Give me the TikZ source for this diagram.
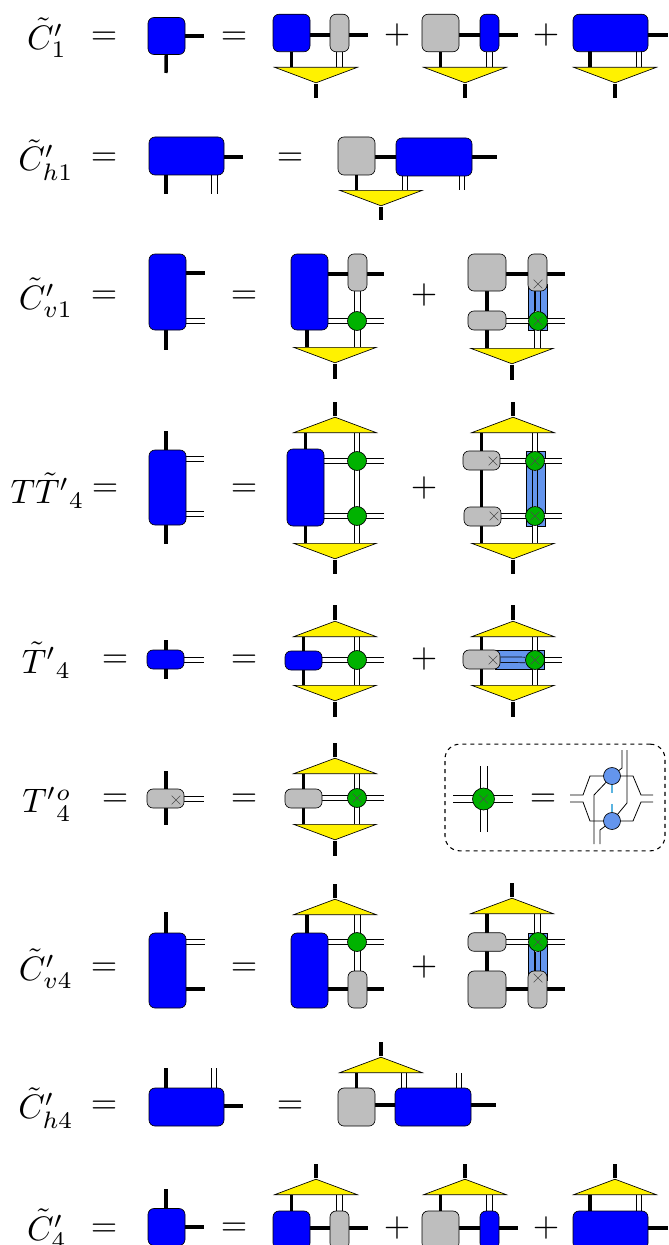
\documentclass[tikz,border=0pt]{standalone}
\usetikzlibrary{shapes.geometric,shapes.misc,backgrounds}
\definecolor{tgray}{gray}{0.745}
\definecolor{tgreen}{RGB}{0,178,0}
\definecolor{tbar}{RGB}{100,149,237}
\definecolor{tdash}{RGB}{91,180,224}
\tikzset{
  leg/.style={line width=2.6pt},
  dbl/.style={double, double distance=3.6pt, line width=0.55pt},
  dblbar/.style={double=tbar, double distance=3.6pt, line width=0.55pt},
  thin line/.style={line width=0.6pt},
  ten/.style 2 args={draw, rounded corners=4.5pt, line width=0.5pt, inner sep=0pt,
               minimum width=#1*0.75pt, minimum height=#2*0.75pt},
  blueten/.style 2 args={ten={#1}{#2}, fill=blue},
  grayten/.style 2 args={ten={#1}{#2}, fill=tgray},
  bar/.style 2 args={draw, line width=0.4pt, fill=tbar, inner sep=0pt,
               minimum width=#1*0.75pt, minimum height=#2*0.75pt},
  isotri/.style={isosceles triangle, isosceles triangle stretches, draw, fill=yellow,
               line width=0.5pt, inner sep=0pt, minimum width=62pt, minimum height=11.6pt},
  isodn/.style={isotri, shape border rotate=-90, anchor=north},
  isoup/.style={isotri, shape border rotate=90, anchor=south},
  gdot/.style={circle, draw, fill=tgreen, line width=0.5pt, inner sep=0pt, minimum size=14.25pt},
  bdot/.style={circle, draw, fill=tbar, line width=0.5pt, inner sep=0pt, minimum size=12.75pt},
  xmark/.style={cross out, draw=black!70, line width=0.45pt, inner sep=0pt, minimum size=6pt},
  lab/.style={scale=2.55},
}
\begin{document}
\begin{tikzpicture}[x=0.75pt,y=-0.75pt]
  \useasboundingbox (0,0) rectangle (668,1245);
  \clip (0,0) rectangle (668,1245);

  % first row
  \node[lab] (q1) at (47,38) {$\tilde{C}'_1$};
  \node[lab] (eq1) at (104,38) {$=$};
  \node[blueten={37}{37}] (a1) at (166.5,36) {};
  \node[lab] (eq2) at (234,38) {$=$};
  \node[blueten={37}{37.5}] (b1) at (291.5,33) {};
  \node[grayten={19}{37.5}] (b2) at (339.5,33) {};
  \node[isodn] (b3) at (316,67) {};
  \node[lab] (pl1) at (397,35) {$+$};
  \node[grayten={37}{37.5}] (c1) at (440.5,33) {};
  \node[blueten={19}{37.5}] (c2) at (489.5,33) {};
  \node[isodn] (c3) at (465,67) {};
  \node[lab] (pl2) at (546,35) {$+$};
  \node[blueten={75}{37.5}] (d1) at (610.5,33) {};
  \node[isodn] (d3) at (615,67) {};
  \coordinate (a1r) at (204,36);
  \coordinate (a1d) at (166,73);
  \coordinate (b1r) at (368,35);
  \coordinate (b3d) at (316,98);
  \coordinate (c1r) at (518,35);
  \coordinate (c3d) at (465,98);
  \coordinate (d1r) at (668,35);
  \coordinate (d3d) at (615,98);
  \coordinate (d1l) at (590,67);
  \coordinate (d1m) at (639,67);
  \begin{scope}[on background layer]
    \draw[leg] (a1) -- (a1r);
    \draw[leg] (a1) -- (a1d);
    \draw[leg] (b1 |- b1r) -- (b1r);
    \draw[leg] (b1) -- (b1 |- b3.north);
    \draw[dbl] (b2) -- (b2 |- b3.north);
    \draw[leg] (b3.south) -- (b3d);
    \draw[leg] (c1 |- c1r) -- (c1r);
    \draw[leg] (c1) -- (c1 |- c3.north);
    \draw[dbl] (c2) -- (c2 |- c3.north);
    \draw[leg] (c3.south) -- (c3d);
    \draw[leg] (d1 |- d1r) -- (d1r);
    \draw[leg] (d1 -| d1l) -- (d1l);
    \draw[dbl] (d1 -| d1m) -- (d1m);
    \draw[leg] (d3.south) -- (d3d);
  \end{scope}

  % second row
  \node[lab] (q2) at (46,160) {$\tilde{C}'_{h1}$};
  \node[lab] (eq3) at (104,159) {$=$};
  \node[blueten={75}{38}] (e1) at (186.5,156) {};
  \node[lab] (eq4) at (290,159) {$=$};
  \node[grayten={37}{38}] (f1) at (356.5,156) {};
  \node[blueten={76}{38}] (f2) at (434,157) {};
  \node[isodn] (f3) at (381,190) {};
  \coordinate (e1r) at (243,157);
  \coordinate (e1d) at (166,194);
  \coordinate (e1m) at (214.5,194);
  \coordinate (f2r) at (497,157);
  \coordinate (f2l) at (405,190);
  \coordinate (f2m) at (462,190);
  \coordinate (f3d) at (381,220);
  \begin{scope}[on background layer]
    \draw[leg] (e1 |- e1r) -- (e1r);
    \draw[leg] (e1 -| e1d) -- (e1d);
    \draw[dbl] (e1 -| e1m) -- (e1m);
    \draw[leg] (f1 |- f2r) -- (f2r);
    \draw[leg] (f1) -- (f1 |- f3.north);
    \draw[dbl] (f2 -| f2l) -- (f2l);
    \draw[dbl] (f2 -| f2m) -- (f2m);
    \draw[leg] (f3.south) -- (f3d);
  \end{scope}

  % third row
  \node[lab] (q3) at (46,298) {$\tilde{C}'_{v1}$};
  \node[lab] (eq5) at (104,297) {$=$};
  \node[blueten={37}{76}] (g1) at (167.5,292) {};
  \node[lab] (eq6) at (244,297) {$=$};
  \node[blueten={37}{76}] (h1) at (309.5,292) {};
  \node[grayten={19}{37}] (h2) at (357.5,272.5) {};
  \node[gdot] (h3) at (357,321) {};
  \node[isodn] (h4) at (335,347) {};
  \node[lab] (pl3) at (424,295) {$+$};
  \node[grayten={38}{37}] (i1) at (487,272.5) {};
  \node[grayten={19}{37}] (i2) at (537.5,272.5) {};
  \node[xmark] (i2x) at (538,284) {};
  \node[grayten={38}{19}] (i3) at (487,320.5) {};
  \node[gdot] (i4) at (538,321) {};
  \node[xmark] (i4x) at (538,321) {};
  \node[isodn] (i5) at (512,348) {};
  \coordinate (g1r) at (205,273);
  \coordinate (g1d) at (166,350);
  \coordinate (g1m) at (205,321);
  \coordinate (h1r) at (384,274);
  \coordinate (h3r) at (384,321);
  \coordinate (h1d) at (307,347);
  \coordinate (h4d) at (335,379);
  \coordinate (i2r) at (565,274);
  \coordinate (i4r) at (565,321);
  \coordinate (i5d) at (512,380);
  \begin{scope}[on background layer]
    \node[bar={19}{46}] (i6) at (537.5,307) {};
    \draw[leg] (g1 |- g1r) -- (g1r);
    \draw[leg] (g1 -| g1d) -- (g1d);
    \draw[dbl] (g1 |- g1m) -- (g1m);
    \draw[leg] (h1 |- h1r) -- (h1r);
    \draw[dbl] (h1 |- h3r) -- (h3r);
    \draw[dbl] (h2) -- (h2 |- h4.north);
    \draw[leg] (h1 -| h1d) -- (h1d);
    \draw[leg] (h4.south) -- (h4d);
    \draw[leg] (i1 |- i2r) -- (i2r);
    \draw[leg] (i1) -- (i1 |- i5.north);
    \draw[dbl] (i3 |- i4r) -- (i4r);
    \draw[dbl] (i2) -- (i2 |- i5.north);
    \draw[dblbar] (i2x) -- (i4);
    \draw[leg] (i5.south) -- (i5d);
  \end{scope}

  % fourth row
  \node[lab] (q4) at (47.5,490.5) {$T\tilde{T}'{}_4$};
  \node[lab] (eq7) at (105,490) {$=$};
  \node[blueten={37}{75}] (j1) at (167.5,487.5) {};
  \node[lab] (eq8) at (244,490) {$=$};
  \node[isoup] (k0) at (335,433) {};
  \node[blueten={37}{77}] (k1) at (305.5,487.5) {};
  \node[gdot] (k2) at (357,461) {};
  \node[gdot] (k3) at (357,516) {};
  \node[isodn] (k4) at (335,543) {};
  \node[lab] (pl4) at (424,488) {$+$};
  \node[isoup] (m0) at (513,433) {};
  \node[grayten={37}{19}] (m1) at (481.5,460.5) {};
  \node[xmark] (m1x) at (493,461) {};
  \node[grayten={37}{19}] (m2) at (482.5,516.5) {};
  \node[xmark] (m2x) at (494,516) {};
  \node[gdot] (m3) at (535,461) {};
  \node[xmark] (m3x) at (535,461) {};
  \node[gdot] (m4) at (535,516) {};
  \node[xmark] (m4x) at (535,516) {};
  \node[isodn] (m5) at (513,543) {};
  \coordinate (j1u) at (166,431);
  \coordinate (j1d) at (166,544);
  \coordinate (j1p) at (204,459);
  \coordinate (j1q) at (204,514);
  \coordinate (k0u) at (335,402);
  \coordinate (k2r) at (384,461);
  \coordinate (k3r) at (384,516);
  \coordinate (k4d) at (335,574);
  \coordinate (m0u) at (513,402);
  \coordinate (m3r) at (562,461);
  \coordinate (m4r) at (562,516);
  \coordinate (m5d) at (513,574);
  \begin{scope}[on background layer]
    \node[bar={19}{75}] (m6) at (535.5,488.5) {};
    \draw[leg] (j1u) -- (j1d);
    \draw[dbl] (j1 |- j1p) -- (j1p);
    \draw[dbl] (j1 |- j1q) -- (j1q);
    \draw[leg] (k0.north) -- (k0u);
    \draw[leg] (k1 |- k0.south) -- (k1 |- k4.north);
    \draw[dbl] (k1 |- k2r) -- (k2r);
    \draw[dbl] (k1 |- k3r) -- (k3r);
    \draw[dbl] (k2 |- k0.south) -- (k3 |- k4.north);
    \draw[leg] (k4.south) -- (k4d);
    \draw[leg] (m0.north) -- (m0u);
    \draw[leg] (m1 |- m0.south) -- (m1 |- m5.north);
    \draw[dbl] (m1 |- m3r) -- (m3r);
    \draw[dbl] (m2 |- m4r) -- (m4r);
    \draw[dbl] (m3 |- m0.south) -- (m4 |- m5.north);
    \draw[dblbar] (m3) -- (m4);
    \draw[leg] (m5.south) -- (m5d);
  \end{scope}

  % fifth row
  \node[lab] (q5) at (46.5,660) {$\tilde{T}'{}_4$};
  \node[lab] (eq9) at (115,661) {$=$};
  \node[blueten={37}{19}] (n1) at (165.5,659.5) {};
  \node[lab] (eq10) at (244,661) {$=$};
  \node[isoup] (p0) at (335,637) {};
  \node[blueten={37}{19}] (p1) at (303.5,660.5) {};
  \node[gdot] (p2) at (357,660) {};
  \node[isodn] (p3) at (335,685) {};
  \node[lab] (pl5) at (424,659) {$+$};
  \node[isoup] (r0) at (513,637) {};
  \node[grayten={37}{19}] (r1) at (481.5,659.5) {};
  \node[xmark] (r1x) at (493,660) {};
  \node[gdot] (r2) at (535,660) {};
  \node[xmark] (r2x) at (535,660) {};
  \node[isodn] (r3) at (513,685) {};
  \coordinate (n1u) at (166,640);
  \coordinate (n1d) at (166,679);
  \coordinate (n1r) at (204,660);
  \coordinate (p0u) at (335,605);
  \coordinate (p2r) at (384,660);
  \coordinate (p3d) at (335,717);
  \coordinate (r0u) at (513,605);
  \coordinate (r2r) at (562,660);
  \coordinate (r3d) at (513,717);
  \begin{scope}[on background layer]
    \node[bar={49}{19}] (r4) at (519.5,659.5) {};
    \draw[leg] (n1u) -- (n1d);
    \draw[dbl] (n1 |- n1r) -- (n1r);
    \draw[leg] (p0.north) -- (p0u);
    \draw[leg] (p1 |- p0.south) -- (p1 |- p3.north);
    \draw[dbl] (p1 |- p2r) -- (p2r);
    \draw[dbl] (p2 |- p0.south) -- (p2 |- p3.north);
    \draw[leg] (p3.south) -- (p3d);
    \draw[leg] (r0.north) -- (r0u);
    \draw[leg] (r1 |- r0.south) -- (r1 |- r3.north);
    \draw[dbl] (r2) -- (r2r);
    \draw[dblbar] (r1) -- (r2);
    \draw[dbl] (r2 |- r0.south) -- (r2 |- r3.north);
    \draw[leg] (r3.south) -- (r3d);
  \end{scope}

  % sixth row
  \node[lab] (q6) at (47,804) {$T'{}^{o}_{4}$};
  \node[lab] (eq11) at (115,800) {$=$};
  \node[grayten={37}{19}] (s1) at (165.5,798.5) {};
  \node[xmark] (s1x) at (176,800) {};
  \node[lab] (eq12) at (244,800) {$=$};
  \node[isoup] (t0) at (335,774) {};
  \node[grayten={37}{19}] (t1) at (303.5,798.5) {};
  \node[gdot] (t2) at (357,798) {};
  \node[xmark] (t2x) at (357,798) {};
  \node[isodn] (t3) at (335,824) {};
  \coordinate (s1u) at (166,771);
  \coordinate (s1d) at (166,825);
  \coordinate (s1r) at (204,799);
  \coordinate (t0u) at (335,743);
  \coordinate (t2r) at (384,798);
  \coordinate (t3d) at (335,856);
  \begin{scope}[on background layer]
    \draw[leg] (s1u) -- (s1d);
    \draw[dbl] (s1 |- s1r) -- (s1r);
    \draw[leg] (t0.north) -- (t0u);
    \draw[leg] (t1 |- t0.south) -- (t1 |- t3.north);
    \draw[dbl] (t1 |- t2r) -- (t2r);
    \draw[dbl] (t2 |- t0.south) -- (t2 |- t3.north);
    \draw[leg] (t3.south) -- (t3d);
  \end{scope}

  % dashed inset
  \node[draw, dashed, line width=0.8pt, rounded corners=11pt, inner sep=0pt,
        minimum width=165pt, minimum height=80pt] (box) at (555,797.5) {};
  \node[gdot, minimum size=16.5pt] (cr) at (483.5,799) {};
  \node[xmark] (crx) at (483.5,799) {};
  \node[lab] (eq13) at (543,800) {$=$};
  \node[bdot] (u2) at (612,776) {};
  \node[bdot] (u3) at (612,821) {};
  \coordinate (crw) at (453,798.5);
  \coordinate (cre) at (513,798.5);
  \coordinate (crn) at (483.5,766);
  \coordinate (crs) at (483.5,832);
  \coordinate (v1) at (570,795);
  \coordinate (v2) at (583,795);
  \coordinate (v3) at (590,776);
  \coordinate (v4) at (633,776);
  \coordinate (v5) at (641,795);
  \coordinate (v6) at (653,795);
  \coordinate (w1) at (570,802);
  \coordinate (w2) at (583,802);
  \coordinate (w3) at (590,821);
  \coordinate (w4) at (633,821);
  \coordinate (w5) at (641,802);
  \coordinate (w6) at (653,802);
  \coordinate (y1) at (622,750);
  \coordinate (y2) at (622,768);
  \coordinate (y3) at (627,750);
  \coordinate (y4) at (627,803);
  \coordinate (y5) at (594,844);
  \coordinate (y6) at (594,795);
  \coordinate (y7) at (600,844);
  \coordinate (y8) at (600,830);
  \begin{scope}[on background layer]
    \draw[thin line] (v1) -- (v2) -- (v3) -- (v4) -- (v5) -- (v6);
    \draw[thin line] (w1) -- (w2) -- (w3) -- (w4) -- (w5) -- (w6);
    \draw[thin line] (y1) -- (y2) -- (u2);
    \draw[thin line] (y3) -- (y4) -- (u3);
    \draw[thin line] (y5) -- (y6) -- (u2);
    \draw[thin line] (y7) -- (y8) -- (u3);
    \draw[tdash, line width=1.1pt, dash pattern=on 6.3pt off 8.4pt] (u2.south) -- (u3.north);
    \draw[thin line] ([yshift=-2.6pt]crw) -- ([yshift=-2.6pt]cre);
    \draw[thin line] ([yshift=2.6pt]crw) -- ([yshift=2.6pt]cre);
    \draw[thin line] ([xshift=-2.6pt]crn) -- ([xshift=-2.6pt]crs);
    \draw[thin line] ([xshift=2.6pt]crn) -- ([xshift=2.6pt]crs);
  \end{scope}

  % seventh row
  \node[lab] (q7) at (46,969) {$\tilde{C}'_{v4}$};
  \node[lab] (eq14) at (104,969) {$=$};
  \node[blueten={37}{75}] (aa1) at (167.5,970.5) {};
  \node[lab] (eq15) at (244,969) {$=$};
  \node[isoup] (ab0) at (335,915) {};
  \node[blueten={37}{75}] (ab1) at (309.5,970.5) {};
  \node[gdot] (ab2) at (357,942) {};
  \node[grayten={19}{37}] (ab3) at (357.5,989.5) {};
  \node[lab] (pl6) at (424,967) {$+$};
  \node[isoup] (ac0) at (512,914) {};
  \node[grayten={38}{18.5}] (ac1) at (487,942) {};
  \node[grayten={38}{37}] (ac2) at (487,989.5) {};
  \node[gdot] (ac3) at (538,942) {};
  \node[xmark] (ac3x) at (538,942) {};
  \node[grayten={19}{37}] (ac4) at (537.5,989.5) {};
  \node[xmark] (ac4x) at (538,978) {};
  \coordinate (aa1u) at (166,912);
  \coordinate (aa1p) at (205,942);
  \coordinate (aa1q) at (205,989);
  \coordinate (ab0u) at (335,884);
  \coordinate (ab1l) at (307,915);
  \coordinate (ab2r) at (384,942);
  \coordinate (ab3r) at (384,989);
  \coordinate (ac0u) at (512,883);
  \coordinate (ac3r) at (565,942);
  \coordinate (ac4r) at (565,989);
  \begin{scope}[on background layer]
    \node[bar={19}{47}] (ac5) at (537.5,956.5) {};
    \draw[leg] (aa1 -| aa1u) -- (aa1u);
    \draw[dbl] (aa1 |- aa1p) -- (aa1p);
    \draw[leg] (aa1 |- aa1q) -- (aa1q);
    \draw[leg] (ab0.north) -- (ab0u);
    \draw[leg] (ab1 -| ab1l) -- (ab1l);
    \draw[dbl] (ab1 |- ab2r) -- (ab2r);
    \draw[leg] (ab1 |- ab3r) -- (ab3r);
    \draw[dbl] (ab3) -- (ab3 |- ab0.south);
    \draw[leg] (ac0.north) -- (ac0u);
    \draw[leg] (ac2) -- (ac2 |- ac0.south);
    \draw[dbl] (ac1 |- ac3r) -- (ac3r);
    \draw[leg] (ac2 |- ac4r) -- (ac4r);
    \draw[dbl] (ac4) -- (ac4 |- ac0.south);
    \draw[dblbar] (ac3) -- (ac4x);
  \end{scope}

  % eighth row
  \node[lab] (q8) at (46,1108) {$\tilde{C}'_{h4}$};
  \node[lab] (eq16) at (104,1107) {$=$};
  \node[blueten={75}{38}] (ba1) at (186.5,1107) {};
  \node[lab] (eq17) at (290,1107) {$=$};
  \node[isoup] (bb0) at (381,1073) {};
  \node[grayten={37}{38}] (bb1) at (356.5,1107) {};
  \node[blueten={76}{38}] (bb2) at (433,1107) {};
  \coordinate (ba1u) at (166,1068);
  \coordinate (ba1m) at (214,1068);
  \coordinate (ba1r) at (243,1106);
  \coordinate (bb0u) at (381,1042);
  \coordinate (bb2l) at (404,1073);
  \coordinate (bb2m) at (459,1073);
  \coordinate (bb2r) at (496,1105);
  \begin{scope}[on background layer]
    \draw[leg] (ba1 -| ba1u) -- (ba1u);
    \draw[dbl] (ba1 -| ba1m) -- (ba1m);
    \draw[leg] (ba1 |- ba1r) -- (ba1r);
    \draw[leg] (bb0.north) -- (bb0u);
    \draw[leg] (bb1) -- (bb1 |- bb0.south);
    \draw[leg] (bb1 |- bb2r) -- (bb2r);
    \draw[dbl] (bb2 -| bb2l) -- (bb2l);
    \draw[dbl] (bb2 -| bb2m) -- (bb2m);
  \end{scope}

  % ninth row, runs off the bottom edge
  \node[lab] (q9) at (47,1229) {$\tilde{C}'_4$};
  \node[lab] (eq18) at (104,1230) {$=$};
  \node[blueten={37}{37}] (ca1) at (166.5,1227) {};
  \node[lab] (eq19) at (234,1229) {$=$};
  \node[isoup] (cb0) at (316,1195) {};
  \node[blueten={37}{38}] (cb1) at (291.5,1230) {};
  \node[grayten={19}{38}] (cb2) at (339.5,1230) {};
  \node[lab] (pl7) at (397,1228) {$+$};
  \node[isoup] (cc0) at (465,1195) {};
  \node[grayten={37}{38}] (cc1) at (440.5,1230) {};
  \node[blueten={19}{38}] (cc2) at (489.5,1230) {};
  \node[lab] (pl8) at (546,1228) {$+$};
  \node[isoup] (cd0) at (615,1195) {};
  \node[blueten={75}{38}] (cd1) at (610.5,1230) {};
  \coordinate (ca1u) at (166,1189);
  \coordinate (ca1r) at (204,1227);
  \coordinate (cb0u) at (316,1164);
  \coordinate (cb1r) at (368,1228);
  \coordinate (cc0u) at (465,1164);
  \coordinate (cc1r) at (518,1228);
  \coordinate (cd0u) at (615,1164);
  \coordinate (cd1r) at (668,1228);
  \coordinate (cd1l) at (590,1195);
  \coordinate (cd1m) at (639,1195);
  \begin{scope}[on background layer]
    \draw[leg] (ca1 -| ca1u) -- (ca1u);
    \draw[leg] (ca1 |- ca1r) -- (ca1r);
    \draw[leg] (cb0.north) -- (cb0u);
    \draw[leg] (cb1) -- (cb1 |- cb0.south);
    \draw[dbl] (cb2) -- (cb2 |- cb0.south);
    \draw[leg] (cb1 |- cb1r) -- (cb1r);
    \draw[leg] (cc0.north) -- (cc0u);
    \draw[leg] (cc1) -- (cc1 |- cc0.south);
    \draw[dbl] (cc2) -- (cc2 |- cc0.south);
    \draw[leg] (cc1 |- cc1r) -- (cc1r);
    \draw[leg] (cd0.north) -- (cd0u);
    \draw[leg] (cd1 -| cd1l) -- (cd1l);
    \draw[dbl] (cd1 -| cd1m) -- (cd1m);
    \draw[leg] (cd1 |- cd1r) -- (cd1r);
  \end{scope}
\end{tikzpicture}
\end{document}
